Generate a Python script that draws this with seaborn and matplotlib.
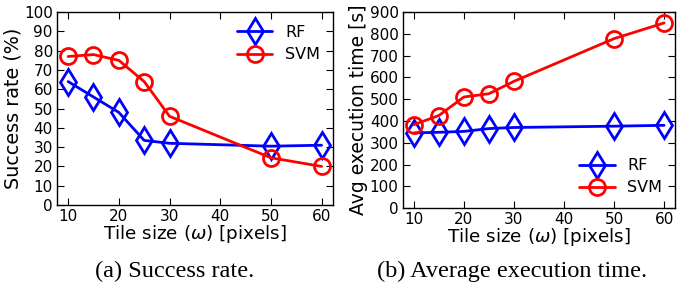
import matplotlib
matplotlib.use("Agg")
import matplotlib.pyplot as plt
import seaborn as sns

# Datos
tile = [10, 15, 20, 25, 30, 50, 60]
rf_rate = [64, 56, 48, 33.5, 32, 30.5, 31]
svm_rate = [77, 78, 75, 64, 46, 24.5, 20]
rf_time = [345, 348, 352, 365, 370, 376, 380]
svm_time = [383, 425, 510, 525, 582, 778, 850]

x_label = r"Tile size ($\omega$) [pixels]"

sns.set_style("ticks", {"axes.edgecolor": "black", "text.color": "black",
                        "axes.labelcolor": "black", "xtick.color": "black",
                        "ytick.color": "black"})
plt.rcParams["font.family"] = ["DejaVu Sans"]

fig = plt.figure(figsize=(6.91, 2.87), dpi=100)
ax1 = fig.add_axes([0.0825, 0.2857, 0.399, 0.672])
ax2 = fig.add_axes([0.583, 0.275, 0.394, 0.683])

estilo_rf = dict(color="blue", marker="d", markersize=13, markerfacecolor="none",
                 markeredgecolor="blue", markeredgewidth=2, linewidth=2)
estilo_svm = dict(color="red", marker="o", markersize=11.5, markerfacecolor="none",
                  markeredgecolor="red", markeredgewidth=2, linewidth=2)

sns.lineplot(x=tile, y=rf_rate, ax=ax1, label="RF", **estilo_rf)
sns.lineplot(x=tile, y=svm_rate, ax=ax1, label="SVM", **estilo_svm)
sns.lineplot(x=tile, y=rf_time, ax=ax2, label="RF", **estilo_rf)
sns.lineplot(x=tile, y=svm_time, ax=ax2, label="SVM", **estilo_svm)

ax1.set_ylim(0, 100)
ax1.set_yticks(range(0, 101, 10))
ax1.set_ylabel("Success rate (%)", fontsize=13.8, labelpad=1)
ax2.set_ylim(0, 900)
ax2.set_yticks(range(0, 901, 100))
ax2.set_ylabel("Avg execution time [s]", fontsize=13.5, labelpad=1)

for ax in (ax1, ax2):
    ax.set_xlim(7.8, 62.2)
    ax.set_xticks([10, 20, 30, 40, 50, 60])
    ax.set_xlabel(x_label, fontsize=13.2, labelpad=-1)
    ax.tick_params(direction="in", top=True, right=True, labelsize=11, length=5,
                   pad=3, colors="black")
    for s in ax.spines.values():
        s.set_visible(True)
        s.set_linewidth(1)
        s.set_color("black")

ax1.legend(loc="upper right", frameon=False, fontsize=11.5, handlelength=2.2,
           borderaxespad=0.4, labelspacing=0.45)
ax2.legend(loc="lower right", frameon=False, fontsize=11.5, handlelength=2.2,
           borderaxespad=0.4, labelspacing=0.45)

fig.text(0.252, 0.055, "(a) Success rate.", ha="center", va="center",
         family=["Liberation Serif"], fontsize=17.5)
fig.text(0.741, 0.055, "(b) Average execution time.", ha="center", va="center",
         family=["Liberation Serif"], fontsize=17.5)

fig.savefig("out.png", dpi=100)
